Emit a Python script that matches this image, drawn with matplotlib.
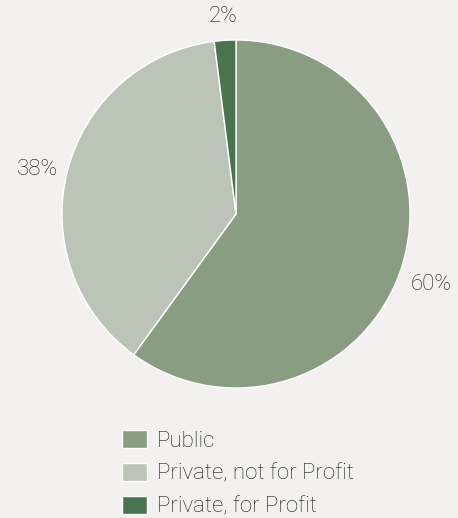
import matplotlib
matplotlib.use("Agg")
import matplotlib.pyplot as plt
import matplotlib.transforms as mtransforms

labels = ['Public', 'Private, not for Profit', 'Private, for Profit']
values = [60, 38, 2]
colors = ['#899d83', '#bcc4b8', '#4a7450']

plt.rcParams['font.family'] = ['Roboto', 'DejaVu Sans']

fig = plt.figure(figsize=(4.58, 5.18), dpi=100, facecolor='#f2f1ef')
ax = fig.add_axes([62/458, (518-214-174)/518, 348/458, 348/518])
ax.set_facecolor('#f2f1ef')

wedges, texts, autotexts = ax.pie(values, colors=colors, startangle=90, counterclock=False,
                                  autopct='%d%%', pctdistance=1.18,
                                  wedgeprops=dict(edgecolor='white', linewidth=1.0))
# nudge labels down a little (baseline look of the original)
shift = mtransforms.ScaledTranslation(0, -7/100, fig.dpi_scale_trans)
for t in autotexts:
    t.set_fontsize(16)
    t.set_color('#1a1a1a')
    t.set_fontweight('light')
    t.set_transform(t.get_transform() + shift)
ax.set_xlim(-1, 1)
ax.set_ylim(-1, 1)
ax.set_aspect('equal')

leg = fig.legend(wedges, labels, loc='upper left', bbox_to_anchor=(113/458, 1 - 421/518),
                 frameon=False, fontsize=16, handlelength=1.13, handleheight=0.9,
                 labelspacing=0.5, handletextpad=0.45, borderaxespad=0)
for t in leg.get_texts():
    t.set_color('#1a1a1a')
    t.set_fontweight('light')

fig.savefig('out.png', dpi=100, facecolor=fig.get_facecolor())
